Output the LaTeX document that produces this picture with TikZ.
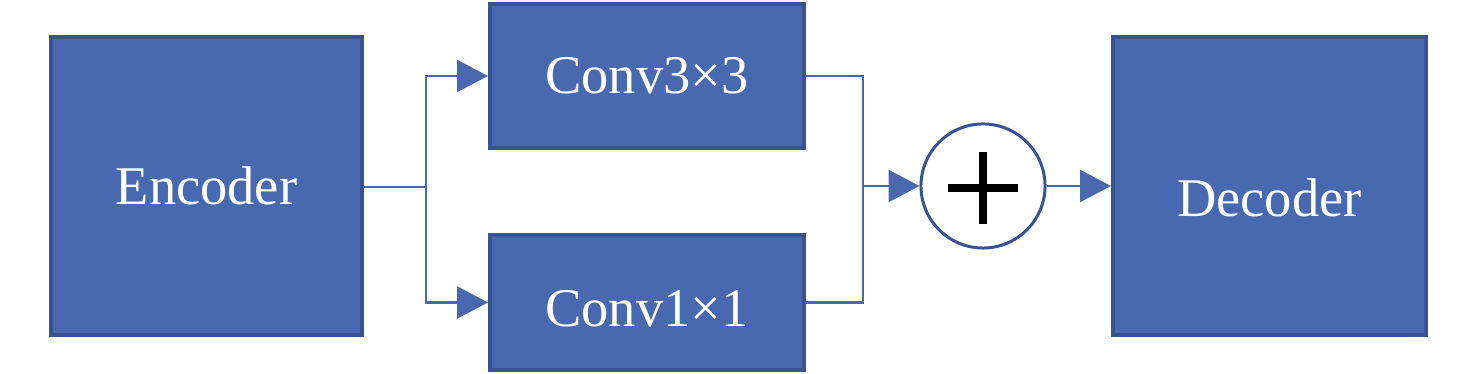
\documentclass[tikz,border=0pt]{standalone}
\usepackage{fontspec}
\setmainfont{Liberation Serif}
\usepackage{xcolor}
\usepackage{tikz}
\usetikzlibrary{arrows.meta,calc}
\definecolor{boxfill}{RGB}{72, 104, 175}
\definecolor{boxline}{RGB}{55, 83, 145}
\definecolor{wire}{RGB}{74, 104, 176}

\begin{document}
\begin{tikzpicture}[
  x=0.01cm, y=-0.01cm,
  block/.style={draw=boxline,fill=boxfill,line width=1.1pt,text=white,
    font=\fontsize{15.5pt}{18pt}\selectfont,inner sep=0pt},
  link/.style={wire,line width=0.6pt},
  arrow/.style={link,-{Triangle[length=8.8pt,width=9.1pt]}}
]
\useasboundingbox (0,0) rectangle (1476,374);
\node[block,minimum width=3.11cm,minimum height=2.98cm] (enc) at (206.5,186) {Encoder};
\node[block,minimum width=3.14cm,minimum height=1.44cm] (c3) at (647,76) {Conv3×3};
\node[block,minimum width=3.14cm,minimum height=1.35cm,text height=13.4pt,text depth=0pt] (c1) at (647,302.5) {Conv1×1};
\node[block,minimum width=3.13cm,minimum height=2.98cm,text height=17.4pt,text depth=0pt] (dec) at (1269.5,186) {Decoder};
\node[draw=boxline,fill=white,circle,line width=0.85pt,minimum size=1.24cm,inner sep=0pt] (sum) at (983,186) {};
\draw[line width=2.5pt] ($(sum.center)+(-35,2)$) -- ($(sum.center)+(35,2)$);
\draw[line width=2.5pt] ($(sum.center)+(0,-34)$) -- ($(sum.center)+(0,38)$);
% split and merge points
\coordinate (split) at (426,187);
\coordinate (merge) at (863,186);
\draw[link] (enc.east |- split) -- (split);
\draw[arrow] (split) |- (c3.west);
\draw[arrow] (split) |- (c1.west);
\draw[link] (c3.east) -| (merge);
\draw[link] (c1.east) -| (merge);
\draw[arrow] (merge) -- (sum.west);
\draw[arrow] (sum.east) -- (dec.west);
\end{tikzpicture}
\end{document}
